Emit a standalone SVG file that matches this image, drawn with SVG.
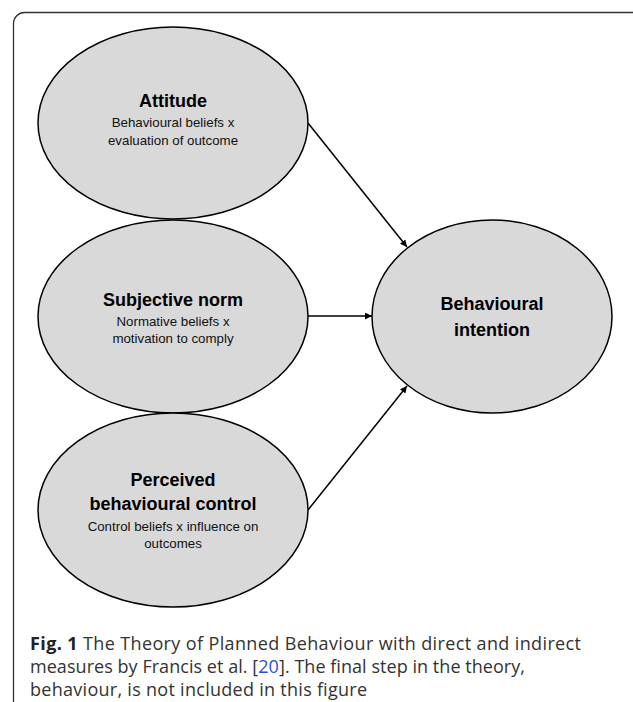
<svg xmlns="http://www.w3.org/2000/svg" width="633" height="702" viewBox="0 0 633 702">
<style>
.node ellipse{fill:#d9d9d9;stroke:#000;stroke-width:1.5}
.t{font-family:"Liberation Sans",Arial,sans-serif;font-weight:bold;font-size:18px;fill:#000;text-anchor:middle}
.s{font-family:"Liberation Sans",Arial,sans-serif;font-size:13.3px;fill:#111;text-anchor:middle}
.cap{font-family:"Open Sans","Liberation Sans",Arial,sans-serif;font-size:18px;fill:#333}
#connectors line{stroke:#000;stroke-width:1.5;marker-end:url(#arr)}
</style>
<defs>
<marker id="arr" viewBox="0 0 10 10" refX="10" refY="5" markerWidth="7" markerHeight="7" markerUnits="userSpaceOnUse" orient="auto">
<path d="M0,0 L10,5 L0,10 z" fill="#000"/>
</marker>
</defs>
<rect id="frame" x="13.5" y="12.5" width="640" height="720" rx="11" fill="none" stroke="#333" stroke-width="1.3"/>
<g id="connectors">
<line x1="308" y1="123" x2="407" y2="247"/>
<line x1="308" y1="316" x2="372" y2="316"/>
<line x1="308" y1="510" x2="407" y2="386"/>
</g>
<g id="attitude" class="node">
<ellipse cx="173" cy="123" rx="135" ry="96"/>
<text class="t" x="173" y="107">Attitude</text>
<text class="s" x="173" y="127">Behavioural beliefs x</text>
<text class="s" x="173" y="145">evaluation of outcome</text>
</g>
<g id="subjective-norm" class="node">
<ellipse cx="173" cy="316.5" rx="135" ry="96.5"/>
<text class="t" x="173" y="306">Subjective norm</text>
<text class="s" x="173" y="326">Normative beliefs x</text>
<text class="s" x="173" y="343">motivation to comply</text>
</g>
<g id="perceived-control" class="node">
<ellipse cx="173" cy="510" rx="135" ry="97"/>
<text class="t" x="173" y="486">Perceived</text>
<text class="t" x="173" y="510">behavioural control</text>
<text class="s" x="173" y="531">Control beliefs x influence on</text>
<text class="s" x="173" y="548">outcomes</text>
</g>
<g id="behavioural-intention" class="node">
<ellipse cx="492" cy="316.5" rx="120" ry="96.5"/>
<text class="t" x="492" y="310">Behavioural</text>
<text class="t" x="492" y="336">intention</text>
</g>
<g id="caption">
<text class="cap" x="30" y="650" textLength="551"><tspan font-weight="bold" fill="#222">Fig. 1</tspan> The Theory of Planned Behaviour with direct and indirect</text>
<text class="cap" x="30" y="673" textLength="495">measures by Francis et al. [<tspan fill="#2a4fd8">20</tspan>]. The final step in the theory,</text>
<text class="cap" x="30" y="696" textLength="337">behaviour, is not included in this figure</text>
</g>
</svg>
